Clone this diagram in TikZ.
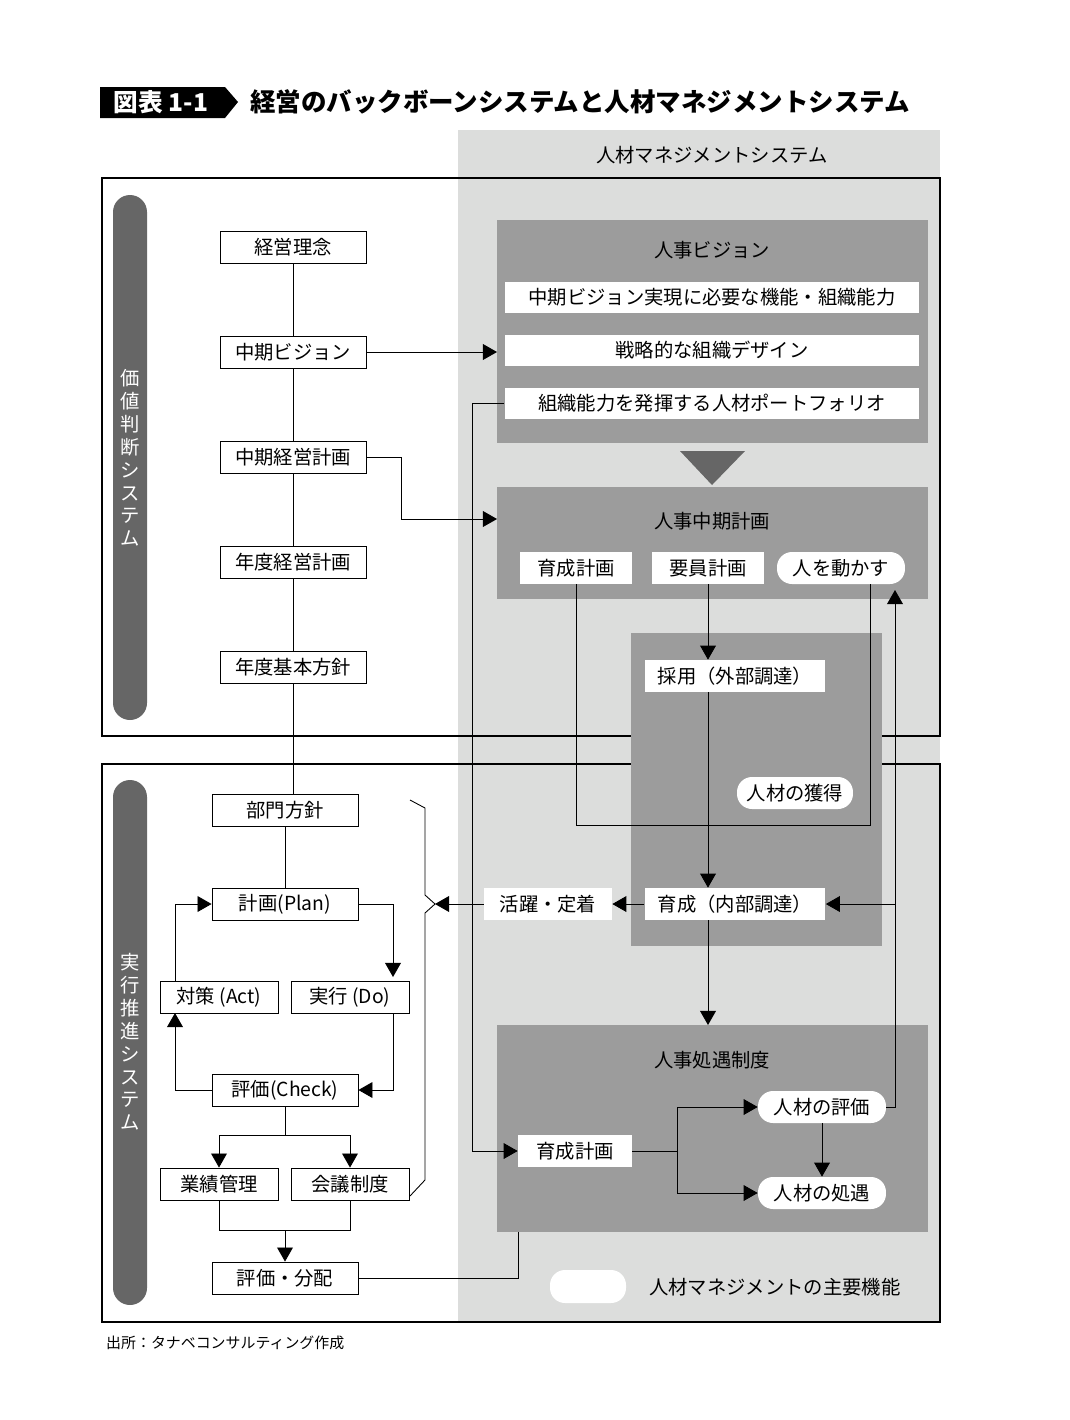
\documentclass[tikz,border=0pt]{standalone}
\usepackage{fontspec}
\setmainfont{Noto Sans CJK JP}
\usetikzlibrary{positioning,arrows.meta,calc}
\definecolor{panelgray}{HTML}{DCDDDC}
\definecolor{boxgray}{HTML}{9C9C9C}
\definecolor{pillgray}{HTML}{666666}
\tikzset{wbox/.style={draw=black, fill=white, line width=0.5pt, inner sep=0pt, minimum width=2.92cm, minimum height=0.64cm, font=\fontsize{11}{13}\selectfont}}
\tikzset{wsmall/.style={wbox, minimum width=2.36cm}}
\tikzset{wbar/.style={fill=white, inner sep=0pt, minimum width=8.3cm, minimum height=0.62cm, font=\fontsize{11}{13}\selectfont}}
\tikzset{wtag/.style={fill=white, inner sep=0pt, minimum height=0.64cm, font=\fontsize{11}{13}\selectfont}}
\tikzset{wpill/.style={wtag, rounded corners=0.3cm, minimum width=2.56cm}}
\tikzset{dbox/.style={fill=boxgray}}
\tikzset{ttl/.style={font=\fontsize{11}{13}\selectfont}}
\tikzset{arr/.style={draw, line width=0.5pt, -{Triangle[length=8pt,width=9pt]}}}
\tikzset{ln/.style={draw, line width=0.5pt}}
\tikzset{vpill/.style={fill=pillgray, rounded corners=0.34cm}}
\begin{document}
\begin{tikzpicture}[x=0.02cm, y=-0.02cm]
\useasboundingbox (0,0) rectangle (1070,1420);
% title
\fill[black] (100,87) -- (225,87) -- (238,102) -- (225,118) -- (100,118) -- cycle;
\node[text=white, font=\fontsize{14}{16}\selectfont\bfseries] (fig) at (161,102) {図表 1-1};
\node[anchor=west, font=\fontsize{14.5}{16}\selectfont\bfseries] (title) at (244,102) {経営のバックボーンシステムと人材マネジメントシステム};
% panels and frames
\fill[panelgray] (458,130) rectangle (940,1322);
\node[ttl] (hrms) at (712,155) {人材マネジメントシステム};
\draw[line width=0.6pt] (102,178) rectangle (940,736);
\draw[line width=0.6pt] (102,764) rectangle (940,1322);
\fill[vpill] (113,195) rectangle (147,720);
\fill[vpill] (113,780) rectangle (147,1305);
\node[text=white, ttl, align=center, inner sep=0pt] (valsys) at (130,458) {価\\値\\判\\断\\シ\\ス\\テ\\ム};
\node[text=white, ttl, align=center, inner sep=0pt] (exesys) at (130,1042) {実\\行\\推\\進\\シ\\ス\\テ\\ム};
% gray blocks
\fill[dbox] (497,220) rectangle (928,443);
\fill[dbox] (497,487) rectangle (928,599);
\fill[dbox] (631,633) rectangle (882,946);
\fill[dbox] (497,1025) rectangle (928,1232);
\fill[gray!80!black] (680,451) -- (745,451) -- (712,485) -- cycle;
\node[ttl] (vision) at (712,250) {人事ビジョン};
\node[ttl] (midplan) at (712,521) {人事中期計画};
\node[ttl] (treat) at (712,1060) {人事処遇制度};
% left column
\node[wbox] (rinen) at (293,247) {経営理念};
\node[wbox] (mvis) at (293,352) {中期ビジョン};
\node[wbox] (mplan) at (293,457) {中期経営計画};
\node[wbox] (yplan) at (293,562) {年度経営計画};
\node[wbox] (ypol) at (293,667) {年度基本方針};
\node[wbox] (dept) at (285,810) {部門方針};
\node[wbox] (plan) at (285,904) {計画(Plan)};
\node[wsmall] (act) at (219,997) {対策 (Act)};
\node[wsmall] (do) at (350,997) {実行 (Do)};
\node[wbox] (check) at (285,1090) {評価(Check)};
\node[wsmall] (perf) at (219,1184) {業績管理};
\node[wsmall] (meet) at (350,1184) {会議制度};
\node[wbox] (alloc) at (285,1278) {評価・分配};
% right column
\node[wbar] (func) at (712,297) {中期ビジョン実現に必要な機能・組織能力};
\node[wbar] (design) at (712,350) {戦略的な組織デザイン};
\node[wbar] (port) at (712,403) {組織能力を発揮する人材ポートフォリオ};
\node[wtag, minimum width=2.24cm] (dev1) at (576,568) {育成計画};
\node[wtag, minimum width=2.24cm] (staff) at (708,568) {要員計画};
\node[wpill] (move) at (841,568) {人を動かす};
\node[wtag, minimum width=3.62cm] (hire) at (735,676) {採用（外部調達）};
\node[wpill, minimum width=2.32cm] (acq) at (795,793) {人材の獲得};
\node[wtag, minimum width=3.62cm] (train) at (735,904) {育成（内部調達）};
\node[wtag, minimum width=2.56cm] (active) at (548,904) {活躍・定着};
\node[wtag, minimum width=2.28cm] (dev2) at (575,1151) {育成計画};
\node[wpill] (eval) at (822,1107) {人材の評価};
\node[wpill] (treatp) at (822,1193) {人材の処遇};
\fill[white, rounded corners=0.3cm] (550,1270) rectangle (626,1303);
\node[ttl, anchor=west] (legend) at (643,1287) {人材マネジメントの主要機能};
\node[anchor=west, font=\fontsize{8.5}{10}\selectfont] (src) at (100,1343) {出所：タナベコンサルティング作成};
% left connectors
\draw[ln] (rinen) -- (mvis) -- (mplan) -- (yplan) -- (ypol);
\draw[ln] (ypol.south) -- (ypol.south |- dept.north);
\draw[ln] (dept) -- (plan);
\draw[arr] (plan.east) -| (393,977);
\draw[arr] (393,1013) |- (check.east);
\draw[arr] (check.west) -| (175,1013);
\draw[arr] (175,981) |- (plan.west);
\draw[ln] (check.south) -- (285,1135);
\draw[arr] (285,1135) -| (perf.north);
\draw[arr] (285,1135) -| (meet.north);
\draw[ln] (perf.south) |- (285,1230) -| (meet.south);
\draw[arr] (285,1230) -- (alloc.north);
\draw[line width=0.5pt] (410,800) -- (425,808) -- (425,895) -- (435,904) -- (425,913) -- (425,1180) -- (410,1196);
% cross connectors
\draw[arr] (mvis.east) -- (497,352);
\draw[arr] (mplan.east) -- (401,457) |- (497,519);
\draw[arr] (port.west) -- (472,403) |- (dev2.west);
\draw[arr] (staff.south) -- (hire.north -| staff.south);
\draw[arr] (hire.south -| staff.south) -- (train.north -| staff.south);
\draw[ln] (dev1.south) |- (870,825) -- (870,584);
\draw[arr] (train.west) -- (active.east);
\draw[arr] (active.west) -- (435,904);
\draw[arr] (895,904) -- (train.east);
\draw[arr] (eval.east) -| (895,590);
\draw[arr] (train.south -| staff.south) -- (708,1025);
\draw[ln] (dev2.east) -- (677,1151);
\draw[arr] (677,1151) |- (eval.west);
\draw[arr] (677,1151) |- (treatp.west);
\draw[arr] (eval.south) -- (treatp.north);
\draw[ln] (alloc.east) -| (518,1232);
\end{tikzpicture}
\end{document}
